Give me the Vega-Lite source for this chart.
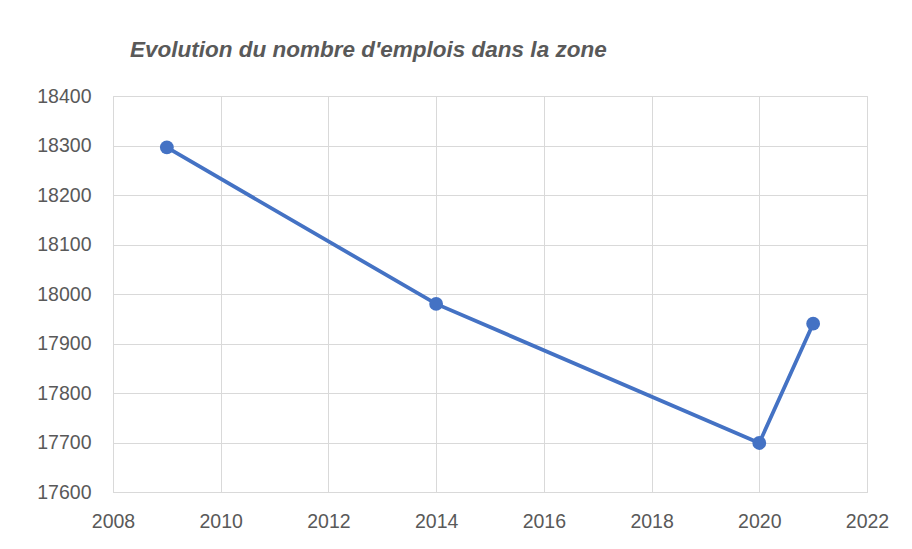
{
  "$schema": "https://vega.github.io/schema/vega-lite/v6.json",
  "width": 754,
  "height": 396,
  "autosize": {"type": "none"},
  "padding": {"left": 113, "top": 96, "right": 46, "bottom": 57},
  "background": "white",
  "title": {
    "text": "Evolution du nombre d'emplois dans la zone",
    "anchor": "start",
    "frame": "group",
    "dx": 17,
    "offset": 25,
    "font": "Liberation Sans",
    "fontSize": 22.5,
    "fontStyle": "italic",
    "fontWeight": "bold",
    "color": "#595959"
  },
  "data": {
    "values": [
      {"year": 2009, "emplois": 18296},
      {"year": 2014, "emplois": 17980},
      {"year": 2020, "emplois": 17699},
      {"year": 2021, "emplois": 17940}
    ]
  },
  "config": {
    "view": {"stroke": "#d9d9d9", "strokeWidth": 1},
    "axis": {
      "labelFont": "Liberation Sans",
      "labelFontSize": 19.5,
      "labelColor": "#595959",
      "gridColor": "#d9d9d9",
      "gridWidth": 1,
      "ticks": false,
      "domain": false,
      "title": null
    }
  },
  "mark": {"type": "line", "color": "#4472C4", "strokeWidth": 3.8, "point": {"size": 190, "filled": true, "color": "#4472C4", "opacity": 1}},
  "encoding": {
    "x": {
      "field": "year",
      "type": "quantitative",
      "scale": {"domain": [2008, 2022], "nice": false, "zero": false},
      "axis": {"values": [2008, 2010, 2012, 2014, 2016, 2018, 2020, 2022], "format": "d", "labelPadding": 20, "domain": true, "domainColor": "#d9d9d9", "labelFlush": false}
    },
    "y": {
      "field": "emplois",
      "type": "quantitative",
      "scale": {"domain": [17600, 18400], "nice": false, "zero": false},
      "axis": {"values": [17600, 17700, 17800, 17900, 18000, 18100, 18200, 18300, 18400], "format": "d", "labelPadding": 22}
    }
  }
}
